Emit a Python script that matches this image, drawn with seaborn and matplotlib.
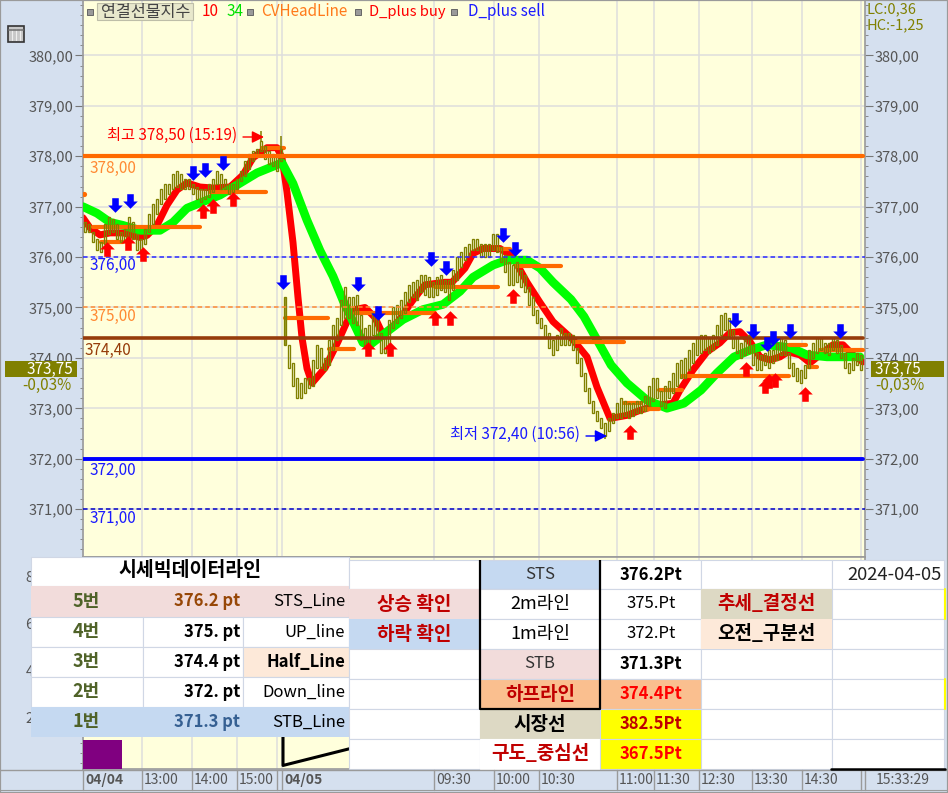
"""
Futures index chart with the price-line table below it
"""

# Libraries
import numpy as np
import pandas as pd
import matplotlib.pyplot as plt
import seaborn as sns
from matplotlib.path import Path
from matplotlib.patches import Rectangle

# Price axis
y_ticks = [380, 379, 378, 377, 376, 375, 374, 373, 372, 371]
y_tick_labels = ['380,00', '379,00', '378,00', '377,00', '376,00',
                 '375,00', '374,00', '373,00', '372,00', '371,00']
sub_ticks = [2, 4, 6, 8]
sub_minor_ticks = [0.1, 0.5, 0.95]

# Time axis (positions along the chart)
time_pos = [83, 142, 192, 237, 282, 434, 494, 539, 617, 654, 699, 752, 802]
time_labels = ['04/04', '13:00', '14:00', '15:00', '04/05', '09:30', '10:00',
               '10:30', '11:00', '11:30', '12:30', '13:30', '14:30']
extra_grid = [277, 861]
clock_label = '15:33:29'

# Candles, high and low of each bar, 4 chart units apart
price_high = [376.7, 376.65, 376.5, 376.35, 376.3, 376.65, 376.8, 376.75, 376.65, 376.5,
              376.55, 376.8, 376.7, 376.45, 376.35, 376.55, 376.85, 377.05, 377.15, 377.35,
              377.45, 377.45, 377.65, 377.7, 377.65, 377.55, 377.55, 377.45, 377.4, 377.35,
              377.35, 377.45, 377.55, 377.7, 377.65, 377.55, 377.45, 377.45, 377.55, 377.7,
              377.9, 378.05, 378.1, 378.15, 378.3, 378.2, 378.1, 378.05, 378.05, 378.15,
              375.2, 374.25, 373.9, 373.6, 373.5, 373.6, 373.6, 373.95, 374.25, 374.2,
              374.0, 374.35, 374.65, 374.8, 375.15, 375.4, 375.2, 375.2, 375.25, 374.85,
              374.6, 374.65, 374.9, 374.85, 374.5, 374.4, 374.75, 375.0, 375.05, 375.15,
              375.3, 375.45, 375.5, 375.55, 375.65, 375.65, 375.6, 375.5, 375.6, 375.65,
              375.55, 375.55, 375.75, 376.0, 376.1, 376.2, 376.25, 376.35, 376.35, 376.25,
              376.25, 376.25, 376.45, 376.45, 376.2, 376.05, 375.9, 375.85, 375.9, 375.75,
              375.65, 375.4, 375.2, 374.95, 374.8, 374.65, 374.5, 374.35, 374.45, 374.6,
              374.5, 374.5, 374.45, 374.2, 374.0, 373.7, 373.4, 373.15, 372.95, 372.8,
              372.7, 372.8, 372.9, 373.1, 373.2, 373.15, 373.1, 373.1, 373.15, 373.15,
              373.25, 373.45, 373.6, 373.6, 373.35, 373.45, 373.55, 373.7, 373.9, 373.95,
              374.0, 374.15, 374.3, 374.4, 374.45, 374.45, 374.4, 374.45, 374.65, 374.85,
              374.9, 374.8, 374.55, 374.4, 374.3, 374.35, 374.45, 374.25, 374.1, 374.05,
              374.1, 374.15, 374.15, 374.3, 374.4, 374.35, 374.1, 373.9, 373.8, 373.75,
              373.85, 374.15, 374.3, 374.4, 374.4, 374.3, 374.3, 374.4, 374.35, 374.25,
              374.1, 373.9, 374.0, 374.1, 374.05]
price_low = [376.5, 376.5, 376.3, 376.15, 376.1, 376.25, 376.45, 376.5, 376.35, 376.3,
             376.3, 376.35, 376.35, 376.15, 376.15, 376.25, 376.5, 376.65, 376.85, 377.05,
             377.15, 377.25, 377.35, 377.4, 377.35, 377.35, 377.35, 377.25, 377.15, 377.1,
             377.15, 377.2, 377.3, 377.45, 377.35, 377.35, 377.25, 377.3, 377.35, 377.5,
             377.6, 377.75, 377.9, 378.0, 378.1, 377.95, 377.85, 377.8, 377.7, 377.9,
             374.25, 373.8, 373.45, 373.2, 373.2, 373.3, 373.4, 373.45, 373.8, 373.8,
             373.75, 373.85, 374.15, 374.35, 374.65, 374.8, 374.8, 374.7, 374.65, 374.35,
             374.25, 374.25, 374.45, 374.4, 374.1, 374.1, 374.25, 374.6, 374.7, 374.8,
             374.9, 375.1, 375.2, 375.15, 375.3, 375.25, 375.2, 375.2, 375.25, 375.35,
             375.3, 375.15, 375.35, 375.55, 375.8, 375.95, 376.05, 376.15, 376.15, 376.0,
             376.0, 376.0, 376.15, 376.1, 375.9, 375.7, 375.45, 375.45, 375.5, 375.4,
             375.3, 375.05, 374.85, 374.7, 374.6, 374.4, 374.2, 374.05, 374.15, 374.25,
             374.25, 374.25, 374.15, 373.9, 373.65, 373.35, 373.1, 372.9, 372.75, 372.6,
             372.45, 372.55, 372.7, 372.8, 372.8, 372.85, 372.8, 372.85, 372.9, 372.9,
             372.95, 373.05, 373.15, 373.2, 373.05, 373.0, 373.2, 373.3, 373.45, 373.6,
             373.6, 373.75, 373.9, 374.05, 374.1, 374.15, 374.1, 374.15, 374.25, 374.45,
             374.55, 374.4, 374.2, 374.1, 374.0, 374.05, 374.1, 373.85, 373.75, 373.75,
             373.85, 373.8, 373.9, 373.95, 374.05, 374.05, 373.8, 373.65, 373.55, 373.5,
             373.6, 373.8, 374.0, 374.1, 374.15, 374.1, 374.05, 374.15, 374.1, 374.0,
             373.8, 373.7, 373.75, 373.85, 373.75]
# Wicks that stick out of the candles
wick_x = [261, 281, 605, 285]
wick_high = [378.5, 378.4, 372.45, 375.2]
wick_low = [378.3, 378.15, 372.4, 374.25]

# Moving average 10
red_x = [83, 90, 100, 110, 123, 140, 147, 157, 167, 177, 187, 200, 213, 230, 243, 253, 267,
         277, 282, 287, 293, 298, 302, 307, 312, 325, 338, 347, 355, 365, 375, 383, 398, 412,
         425, 445, 452, 465, 473, 483, 500, 513, 527, 540, 553, 573, 587, 597, 610, 627,
         640, 657, 673, 680, 693, 707, 720, 730, 740, 750, 760, 770, 780, 788, 800, 810,
         820, 833, 843, 853, 863]
red_y = [376.78, 376.58, 376.44, 376.48, 376.48, 376.39, 376.43, 376.63, 377.03, 377.33,
         377.47, 377.39, 377.37, 377.39, 377.63, 377.97, 378.17, 378.17, 377.97, 377.29,
         376.29, 375.2, 374.4, 373.79, 373.5, 373.8, 374.32, 374.72, 374.96, 375.0, 374.8, 374.46,
         374.72, 375.12, 375.45, 375.5, 375.5, 375.78, 376.07, 376.17, 376.17, 376.0,
         375.5, 375.1, 374.72, 374.36, 374.02, 373.42, 372.8, 372.86, 372.96, 373.06,
         373.1, 373.36, 373.76, 374.12, 374.3, 374.5, 374.52, 374.32, 374.02, 373.96,
         374.02, 374.12, 374.06, 373.9, 374.06, 374.26, 374.26, 374.06, 373.92]

# Moving average 34
green_x = [83, 97, 110, 123, 140, 160, 173, 187, 207, 220, 237, 257, 282, 293, 307, 320, 333,
           343, 363, 370, 387, 403, 423, 443, 460, 473, 493, 507, 527, 540, 553, 571, 584,
           597, 611, 627, 647, 667, 684, 701, 717, 734, 751, 767, 791, 807, 827, 860]
green_y = [377.0, 376.87, 376.69, 376.63, 376.53, 376.53, 376.69, 376.97, 377.13, 377.23,
           377.43, 377.67, 377.87, 377.46, 376.73, 376.13, 375.62, 375.14, 374.3, 374.26,
           374.52, 374.76, 374.96, 375.06, 375.32, 375.6, 375.84, 375.94, 375.94, 375.78,
           375.5, 375.16, 374.82, 374.36, 373.86, 373.5, 373.16, 373.0, 373.1, 373.36,
           373.7, 374.02, 374.16, 374.26, 374.2, 374.06, 374.02, 374.02]

# CVHeadLine pieces
cv_start = [93, 101, 210, 262, 285, 329, 355, 435, 498, 516, 574, 624, 644, 659, 682, 789, 808, 820]
cv_end = [200, 123, 266, 284, 328, 354, 435, 498, 510, 561, 624, 641, 659, 682, 789, 806, 817, 863]
cv_level = [376.6, 376.29, 377.3, 378.17, 374.8, 374.17, 374.89, 375.4, 376.17, 375.83,
            374.32, 373.11, 372.99, 373.37, 373.64, 374.26, 373.82, 374.15]
cv_dot_x = [84]
cv_dot_y = [377.25]

# Signals
buy_x = [107, 128, 143, 203, 213, 233, 368, 390, 435, 450, 513, 630, 746, 765, 769, 775, 805]
buy_y = [376.17, 376.27, 376.07, 376.91, 377.01, 377.16, 374.17, 374.17, 374.8, 374.8,
         375.22, 372.52, 373.77, 373.45, 373.55, 373.57, 373.28]
sell_x = [115, 130, 193, 205, 223, 283, 358, 378, 431, 446, 503, 515, 735, 753, 767, 773, 790, 840]
sell_y = [377.03, 377.12, 377.66, 377.72, 377.86, 375.5, 375.46, 374.9, 375.97, 375.78,
          376.43, 376.17, 374.76, 374.53, 374.27, 374.39, 374.53, 374.53]

# Horizontal levels
level_378 = 378.0
level_376 = 376.0
level_375 = 375.0
level_half = 374.4
level_372 = 372.0
level_371 = 371.0

# Lower panel
volume_x = [102.5]
volume_y = [1.05]
sub_line_x = [283, 283, 360]
sub_line_y = [1.2, -0.02, 0.8]

# Left table
row_no = ['5번', '4번', '3번', '2번', '1번']
row_price = ['376.2 pt', '375. pt', '374.4 pt', '372. pt', '371.3 pt']
row_name = ['STS_Line', 'UP_line', 'Half_Line', 'Down_line', 'STB_Line']
table_title = '시세빅데이터라인'

# Right table
confirm_labels = ['상승 확인', '하락 확인']
line_names = ['STS', '2m라인', '1m라인', 'STB', '하프라인', '시장선', '구도_중심선']
line_values = ['376.2Pt', '375.Pt', '372.Pt', '371.3Pt', '374.4Pt', '382.5Pt', '367.5Pt']
note_labels = ['추세_결정선', '오전_구분선']
table_date = '2024-04-05'

# Colours
panel_bg = '#D5E0EF'
chart_bg = '#FFFFDC'
grid_col = '#DEDEDC'
olive = '#808000'
orange = '#FF6A00'
brown = '#963C0A'
cell_line = '#D0D7E5'
pink = '#F2DCDB'
sky = '#C5D9F1'
peach = '#FDE9D9'
salmon = '#FABF8F'
tan = '#DDD9C4'
dark_red = '#C00000'

sns.set_theme(style='white')
plt.rcParams['font.family'] = ['Noto Sans CJK KR', 'DejaVu Sans']

W, H = 948, 793
fig = plt.figure(figsize=(W / 100, H / 100), dpi=100, facecolor=panel_bg)

# Main chart
ax = fig.add_axes([83 / W, (H - 557) / H, (865 - 83) / W, 557 / H], facecolor=chart_bg)
candles = pd.DataFrame({'x': np.arange(85, 865, 4), 'high': price_high, 'low': price_low})

sns.lineplot(x=red_x, y=red_y, color='#FF0000', lw=5.0, estimator=None, sort=False,
             solid_capstyle='round', ax=ax, zorder=2)
sns.lineplot(x=green_x, y=green_y, color='#00FF00', lw=6.2, estimator=None, sort=False,
             solid_capstyle='round', ax=ax, zorder=3)
ax.hlines(cv_level, cv_start, cv_end, color=orange, lw=3.0, capstyle='round', zorder=4)
sns.scatterplot(x=cv_dot_x, y=cv_dot_y, color=orange, s=14, linewidth=0, ax=ax, zorder=4)

ax.bar(candles['x'], candles['high'] - candles['low'], bottom=candles['low'], width=2.8,
       facecolor='none', edgecolor=olive, linewidth=0.95, zorder=5)
ax.vlines(wick_x, wick_low, wick_high, color=olive, lw=1.1, zorder=5)

ax.axhline(level_378, xmax=0.998, color=orange, lw=3.0, zorder=6)
ax.axhline(level_half, xmax=0.998, color=brown, lw=2.6, zorder=6)
ax.axhline(level_372, xmax=0.998, color='#0000FF', lw=2.8, zorder=6)
ax.axhline(level_376, color='#2A2AFF', lw=1.1, ls=(0, (3, 2)), zorder=6)
ax.axhline(level_371, color='#0000C8', lw=1.1, ls=(0, (3, 2)), zorder=6)
ax.axhline(level_375, color='#FF8C32', lw=1.1, ls=(0, (3, 2)), zorder=6)

# Block arrows for the signals
up_arrow = Path([(0, 1), (1, 0), (0.45, 0), (0.45, -1), (-0.45, -1), (-0.45, 0), (-1, 0), (0, 1)],
                closed=True)
down_arrow = Path([(0, -1), (1, 0), (0.45, 0), (0.45, 1), (-0.45, 1), (-0.45, 0), (-1, 0), (0, -1)],
                  closed=True)
sns.scatterplot(x=buy_x, y=buy_y, marker=up_arrow, color='#FF0000', s=110, linewidth=0, ax=ax, zorder=7)
sns.scatterplot(x=sell_x, y=sell_y, marker=down_arrow, color='#0000FF', s=110, linewidth=0, ax=ax, zorder=7)

ax.set_xlim(83, 865)
ax.set_ylim(370.05, 381.10)
ax.set_xticks(time_pos + extra_grid)
ax.set_yticks(y_ticks)
ax.set_yticklabels(y_tick_labels)
ax.set_yticks(np.arange(370.2, 381.0, 0.2), minor=True)
ax.grid(True, axis='both', which='major', color=grid_col, lw=1.1, zorder=0)
ax.set_axisbelow(True)
ax.tick_params(axis='x', bottom=False, labelbottom=False)
ax.tick_params(axis='y', which='major', left=True, right=True, labelleft=True, labelright=True,
               length=5.5, width=0.8, color='#777777', labelcolor='#555555', labelsize=10.5, pad=1.5)
ax.tick_params(axis='y', which='minor', left=True, right=True, length=2, width=0.7, color='#888888')
for side in ax.spines.values():
    side.set_color('#9A9A9A')
    side.set_linewidth(1.2)

# Lower panel, mostly under the table
ax_sub = fig.add_axes([83 / W, (H - 769) / H, (865 - 83) / W, (769 - 557) / H], facecolor=chart_bg)
ax_sub.bar(volume_x, np.array(volume_y) + 0.17, bottom=-0.17, width=39, color='#800080',
           edgecolor='none', zorder=3)
sns.lineplot(x=sub_line_x, y=sub_line_y, color='black', lw=2.2, estimator=None, sort=False,
             ax=ax_sub, zorder=3)
ax_sub.set_xlim(83, 865)
ax_sub.set_ylim(-0.17, 8.81)
ax_sub.set_xticks(time_pos + extra_grid)
ax_sub.set_yticks(sub_ticks)
ax_sub.set_yticks(sub_minor_ticks, minor=True)
ax_sub.grid(True, axis='x', color=grid_col, lw=1.1)
ax_sub.set_axisbelow(True)
ax_sub.tick_params(axis='x', bottom=False, labelbottom=False)
ax_sub.tick_params(axis='y', which='major', left=True, length=5.5, width=0.8, color='#777777',
                   labelcolor='#555555', labelsize=10.5, pad=30)
ax_sub.tick_params(axis='y', which='minor', left=True, length=2, width=0.7, color='#888888')
for side in ax_sub.spines.values():
    side.set_color('#9A9A9A')
    side.set_linewidth(1.2)

# Everything on top, placed in image pixels
top = fig.add_axes([0, 0, 1, 1], facecolor='none')
top.set_xlim(0, W)
top.set_ylim(H, 0)
top.axis('off')


def put(x, y, s, color='black', size=11, ha='left', weight='normal', **kw):
    return top.text(x, y, s, color=color, fontsize=size, ha=ha, va='center',
                    fontweight=weight, **kw)


def cell(x0, x1, y0, y1, fill='white', edge=cell_line, lw=0.8):
    top.add_patch(Rectangle((x0, y0), x1 - x0, y1 - y0, facecolor=fill, edgecolor=edge, linewidth=lw))


# Window frame
top.add_patch(Rectangle((0, 0), W, H, facecolor='none', edgecolor='#9A9A9A', linewidth=1.6))

# Legend row
for sq in [90, 250, 358, 454]:
    top.add_patch(Rectangle((sq - 3, 9), 6, 6, facecolor='#9A9A9A', edgecolor='#666666', linewidth=0.7))
top.add_patch(Rectangle((97, 3), 96, 17, facecolor='#E8E8CC', edgecolor='#BEBEA8', linewidth=0.8))
put(101, 12, '연결선물지수', color='#444444', size=11.7)
put(202, 12, '10', color='#FF0000')
put(227, 12, '34', color='#00E000')
put(261, 12, 'CVHeadLine', color='#FF7A1A')
put(369, 12, 'D_plus buy', color='#FF0000', size=10.6)
put(468, 12, 'D_plus sell', color='#1A1AFF')
put(867, 9, 'LC:0,36', color=olive, size=10.5)
put(867, 25, 'HC:-1,25', color=olive, size=10.5)

# Little grid icon
top.add_patch(Rectangle((8, 26), 16, 16, facecolor='#C8C8C8', edgecolor='#333333', linewidth=1.2))
for gx in [12, 16, 20]:
    top.plot([gx, gx], [29, 40], color='#EEEEEE', lw=0.8)
top.plot([9, 23], [30, 30], color='#777777', lw=1.2)

# Level captions
put(90, 168, '378,00', color='#FF8A33')
put(90, 265, '376,00', color='#1A1AFF')
put(90, 316, '375,00', color='#FF8A33')
put(85, 350, '374,40', color=brown)
put(90, 470, '372,00', color='#1A1AFF')
put(90, 518, '371,00', color='#1A1AFF')

# High and low callouts
put(107, 135, '최고 378,50 (15:19)', color='#FF0000')
top.annotate('', xy=(264, 137), xytext=(243, 137),
             arrowprops=dict(arrowstyle='-|>', color='#FF0000', lw=1.0, mutation_scale=18,
                             shrinkA=0, shrinkB=0))
put(450, 434, '최저 372,40 (10:56)', color='#1A1AFF')
top.annotate('', xy=(607, 436), xytext=(586, 436),
             arrowprops=dict(arrowstyle='-|>', color='#0000FF', lw=1.0, mutation_scale=18,
                             shrinkA=0, shrinkB=0))

# Current price boxes
top.add_patch(Rectangle((5, 361), 72, 16, facecolor=olive, edgecolor='none'))
top.add_patch(Rectangle((871, 361), 73, 16, facecolor=olive, edgecolor='none'))
put(73, 369, '373,75', color='white', ha='right')
put(875, 369, '373,75', color='white')
put(72, 385, '-0,03%', color=olive, ha='right')
put(875, 385, '-0,03%', color=olive)

# Time labels
top.plot([0, 948], [770, 770], color='#9A9A9A', lw=1.0)
top.plot([0, 948], [790, 790], color='#9A9A9A', lw=0.8)
for px, lab in zip(time_pos, time_labels):
    bold = '/' in lab
    top.plot([px, px], [770, 790], color='#9A9A9A', lw=1.0)
    put(px + 2, 780, lab, color='#555555', size=10, weight='bold' if bold else 'normal')
top.plot([277, 277], [770, 790], color='#9A9A9A', lw=1.0)
top.plot([861, 861], [770, 790], color='#9A9A9A', lw=1.0)
top.plot([865, 865], [770, 790], color='#9A9A9A', lw=1.0)
put(876, 780, clock_label, color='#555555', size=10)

# Left table
TXT = 12
KOR = 13.7
left_top = [586, 617, 647, 677, 707]
left_bot = [617, 647, 677, 707, 737]
left_fill = [pink, 'white', 'white', 'white', sky]
price_col = ['#974706', 'black', 'black', 'black', '#366092']
cell(31, 349, 557, 586)
put(190, 571, table_title, weight='bold', ha='center', size=14)
for i in range(5):
    y0, y1 = left_top[i], left_bot[i]
    mid = (y0 + y1) / 2
    if left_fill[i] == 'white':
        cell(31, 143, y0, y1)
        cell(143, 243, y0, y1)
        cell(243, 349, y0, y1, fill=peach if row_name[i] == 'Half_Line' else 'white')
    else:
        top.add_patch(Rectangle((31, y0), 318, y1 - y0, facecolor=left_fill[i], edgecolor='none'))
    put(86, mid, row_no[i], color='#4F6228', weight='bold', ha='center', size=13)
    put(240, mid, row_price[i], color=price_col[i], weight='bold', ha='right', size=TXT)
    put(345, mid, row_name[i], ha='right', size=TXT, weight='bold' if row_name[i] == 'Half_Line' else 'normal')

# Right table rows
rows = [560, 589, 619, 649, 679, 709, 739, 769]
name_fill = [sky, 'white', 'white', pink, salmon, tan, 'white']
name_col = ['#333333', 'black', 'black', '#333333', dark_red, 'black', dark_red]
name_bold = [False, False, False, False, True, True, True]
name_size = [TXT, 13, 13, TXT, KOR, KOR, KOR]
value_fill = ['white', 'white', 'white', 'white', salmon, '#FFFF00', '#FFFF00']
value_col = ['black', 'black', 'black', 'black', '#FF0000', dark_red, '#FF0000']
value_bold = [True, False, False, True, True, True, True]

for i in range(7):
    y0, y1 = rows[i], rows[i + 1]
    mid = (y0 + y1) / 2
    cell(349, 480, y0, y1)
    cell(480, 600, y0, y1, fill=name_fill[i], edge=name_fill[i] if i > 4 else cell_line)
    cell(600, 701, y0, y1, fill=value_fill[i])
    cell(701, 832, y0, y1)
    cell(832, 944, y0, y1)
    put(540, mid, line_names[i], color=name_col[i], ha='center', size=name_size[i],
        weight='bold' if name_bold[i] else 'normal')
    put(651, mid, line_values[i], color=value_col[i], ha='center', size=TXT,
        weight='bold' if value_bold[i] else 'normal')

for i, lab in enumerate(confirm_labels):
    y0, y1 = rows[i + 1], rows[i + 2]
    top.add_patch(Rectangle((349, y0), 131, y1 - y0, facecolor=pink if i == 0 else sky, edgecolor='none'))
    put(414, (y0 + y1) / 2, lab, color=dark_red, weight='bold', ha='center', size=KOR)

for i, lab in enumerate(note_labels):
    y0, y1 = rows[i + 1], rows[i + 2]
    top.add_patch(Rectangle((701, y0), 131, y1 - y0, facecolor=tan if i == 0 else peach, edgecolor='none'))
    put(766, (y0 + y1) / 2, lab, color=dark_red if i == 0 else 'black', weight='bold', ha='center', size=KOR)

put(942, 575, table_date, ha='right', size=13.3, color='#222222')

# Black rules of the right table
top.plot([480, 480, 600, 600], [560, 709, 709, 560], color='black', lw=1.6, solid_capstyle='butt')
top.plot([831, 945], [769, 769], color='black', lw=1.8)
top.plot([945, 945], [589, 619], color='#FFFF00', lw=1.5)
top.plot([945, 945], [679, 709], color='#FFFF00', lw=1.5)

fig.savefig('out.png', dpi=100, facecolor=panel_bg)
